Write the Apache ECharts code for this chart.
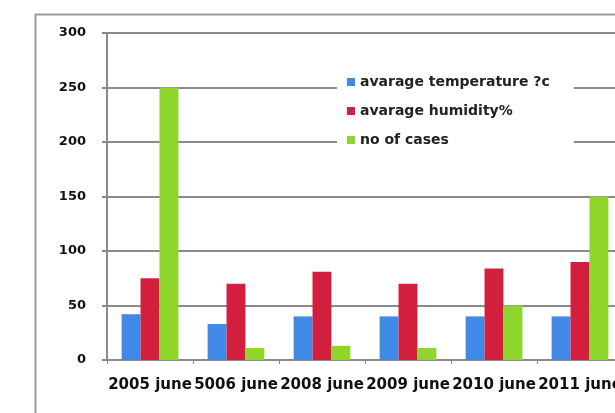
<!DOCTYPE html>
<html>
<head>
<meta charset="utf-8">
<script src="https://cdn.jsdelivr.net/npm/echarts@6/dist/echarts.min.js"></script>
<style>
html,body{margin:0;padding:0;width:615px;height:413px;overflow:hidden;background:#fff;}
#c{width:640px;height:413px;}
</style>
</head>
<body>
<div id="c"></div>
<script>
var categories = ['2005 june', '5006 june', '2008 june', '2009 june', '2010 june', '2011 june'];
var temperature = [42, 33, 40, 40, 40, 40];
var humidity = [75, 70, 81, 70, 84, 90];
var cases = [250, 11, 13, 11, 50, 150];
var seriesNames = ['avarage temperature ?c', 'avarage humidity%', 'no of cases'];
var yTicks = [0, 50, 100, 150, 200, 250, 300];

var chart = echarts.init(document.getElementById('c'), null, {renderer: 'canvas'});
var font = 'DejaVu Sans';
chart.setOption({
  animation: false,
  backgroundColor: '#fff',
  graphic: [
    {type: 'line', shape: {x1: 35, y1: 14.5, x2: 640, y2: 14.5}, style: {stroke: '#9a9a9a', lineWidth: 2}},
    {type: 'line', shape: {x1: 35.5, y1: 14, x2: 35.5, y2: 413}, style: {stroke: '#9a9a9a', lineWidth: 2}}
  ],
  grid: {left: 107, top: 33, bottom: 53, width: 516},
  legend: {
    orient: 'vertical',
    left: 337, top: 73,
    padding: [2, 24, 2, 10],
    backgroundColor: '#fff',
    itemWidth: 8, itemHeight: 8, itemGap: 15,
    icon: 'rect',
    data: seriesNames,
    textStyle: {fontFamily: font, fontWeight: 'bold', fontSize: 14, color: '#222'}
  },
  xAxis: {
    type: 'category',
    data: categories,
    axisLine: {lineStyle: {color: '#8a8a8a', width: 2}},
    axisTick: {show: true, length: 4, lineStyle: {color: '#8a8a8a'}},
    axisLabel: {fontFamily: font, fontWeight: 'bold', fontSize: 15, color: '#111', margin: 18, interval: 0}
  },
  yAxis: {
    type: 'value',
    min: 0, max: 300, interval: 50,
    axisLine: {show: true, lineStyle: {color: '#8a8a8a', width: 2}},
    axisTick: {show: true, length: 5, lineStyle: {color: '#8a8a8a', width: 2}},
    splitLine: {lineStyle: {color: '#8a8a8a', width: 2}},
    axisLabel: {fontFamily: font, fontWeight: 'bold', fontSize: 13, color: '#111', margin: 21,
      formatter: function (v) { return yTicks.indexOf(v) >= 0 ? String(v) : ''; }}
  },
  series: [
    {name: seriesNames[0], type: 'bar', data: temperature, barGap: '0%', barCategoryGap: '34%', itemStyle: {color: '#4189e6'}},
    {name: seriesNames[1], type: 'bar', data: humidity, barGap: '0%', barCategoryGap: '34%', itemStyle: {color: '#d11f3d'}},
    {name: seriesNames[2], type: 'bar', data: cases, barGap: '0%', barCategoryGap: '34%', itemStyle: {color: '#8fd62c'}}
  ]
});
</script>
</body>
</html>
